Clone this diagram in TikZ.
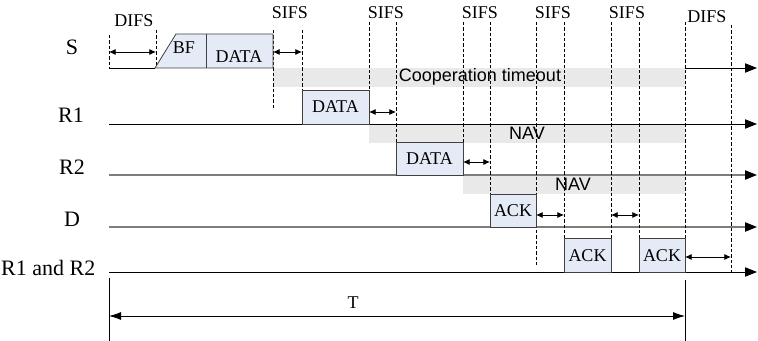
\documentclass[tikz,border=0pt]{standalone}
\usepackage{fontspec}
\setmainfont{Liberation Serif}
\newfontfamily\bandfont{Liberation Sans}
\usetikzlibrary{arrows.meta}
\definecolor{boxblue}{RGB}{228,234,246}
\definecolor{bandgray}{RGB}{232,233,232}
\definecolor{linegray}{RGB}{125,125,125}
\tikzset{
frame/.style={draw=black!75, fill=boxblue, line width=0.6pt}, % packet boxes
band/.style={fill=bandgray, draw=none}, % timeout and NAV bars
guide/.style={dash pattern=on 2.5pt off 1.5pt, line width=0.5pt}, % dashed time marks
gap/.style={{Latex[length=5pt,width=4.5pt]}-{Latex[length=5pt,width=4.5pt]}, line width=0.6pt},
timeline/.style={-{Triangle[length=9pt,width=7pt,color=black]}, line width=0.6pt},
lbl/.style={font=\fontsize{16.5}{18}\selectfont},
tag/.style={font=\fontsize{13.5}{15}\selectfont},
bandtext/.style={font=\bandfont\fontsize{13.5}{15}\selectfont},
}

\begin{document}
\begin{tikzpicture}[x=0.75pt,y=0.75pt,yscale=-1,xscale=1]
\useasboundingbox (0,0) rectangle (758,341);
%Bars
\fill[band] (273,68) rectangle (685,87);
\fill[band] (369,124) rectangle (685,143);
\fill[band] (463,175) rectangle (685,194);
%Time lines
\draw[line width=0.6pt] (109,68) -- (155,68);
\draw[timeline] (685,68) -- (757,68);
\draw[timeline] (109,124) -- (757,124);
\draw[timeline, draw=linegray, line width=0.9pt] (109,175) -- (757,175);
\draw[timeline, draw=linegray, line width=0.9pt] (109,227) -- (757,227);
\draw[timeline] (109,272) -- (757,272);
%Station names
\draw (72,47) node [lbl] (s) {S};
\draw (71,115) node [lbl] (r1) {R1};
\draw (72,167) node [lbl] (r2) {R2};
\draw (72,219) node [lbl] (d) {D};
\draw (100,268) node [lbl, anchor=east] (r12) {R1 and R2};
%Dashed marks
\foreach \x/\a/\b in {109/35/68, 156/30/68, 273/30/110, 302/30/90, 369/22/90, 396/22/142,
  463/22/142, 490/22/194, 536/22/267, 564/22/238, 611/22/238, 639/22/238, 685/22/272, 731/25/272}
  \draw[guide] (\x,\a) -- (\x,\b);
\draw (480,77) node [bandtext] (coop) {Cooperation timeout};
\draw (527,133) node [bandtext] (nav1) {NAV};
\draw (573,184) node [bandtext] (nav2) {NAV};
%Interval names
\draw (134,21) node [tag] (difs1) {DIFS};
\draw (290,13) node [tag] (sifs1) {SIFS};
\draw (386,13) node [tag] (sifs2) {SIFS};
\draw (480,13) node [tag] (sifs3) {SIFS};
\draw (553,13) node [tag] (sifs4) {SIFS};
\draw (627,13) node [tag] (sifs5) {SIFS};
\draw (707,17) node [tag] (difs2) {DIFS};
%Frames
\draw[frame] (155,68) -- (176,34) -- (273,34) -- (273,68) -- cycle;
\draw[frame] (206,34) -- (206,68);
\draw (184,48) node [tag] (bf) {BF};
\draw (239,57) node [tag] (sdata) {DATA};
\draw[frame] (302,90) rectangle (369,124);
\draw (335.5,107) node [tag] (r1data) {DATA};
\draw[frame] (396,142) rectangle (463,175);
\draw (429.5,159) node [tag] (r2data) {DATA};
\draw[frame] (490,194) rectangle (536,227);
\draw (513,211) node [tag] (dack) {ACK};
\draw[frame] (564,238) rectangle (611,272);
\draw (587.5,256) node [tag] (ack1) {ACK};
\draw[frame] (639,238) rectangle (685,272);
\draw (662,256) node [tag] (ack2) {ACK};
%Gaps
\draw[gap] (109,52) -- (156,52);
\draw[gap] (273,52) -- (302,52);
\draw[gap] (369,112) -- (396,112);
\draw[gap] (463,162) -- (490,162);
\draw[gap] (536,215) -- (564,215);
\draw[gap] (611,215) -- (639,215);
\draw[gap] (685,257) -- (731,257);
%Total time
\draw[line width=0.6pt] (109,278) -- (109,341);
\draw[line width=0.6pt] (685,280) -- (685,341);
\draw[{Latex[length=9pt,width=6pt]}-{Latex[length=9pt,width=6pt]}, line width=0.6pt] (109,316) -- (685,316);
\draw (353,303) node [tag] (t) {T};
\end{tikzpicture}
\end{document}
